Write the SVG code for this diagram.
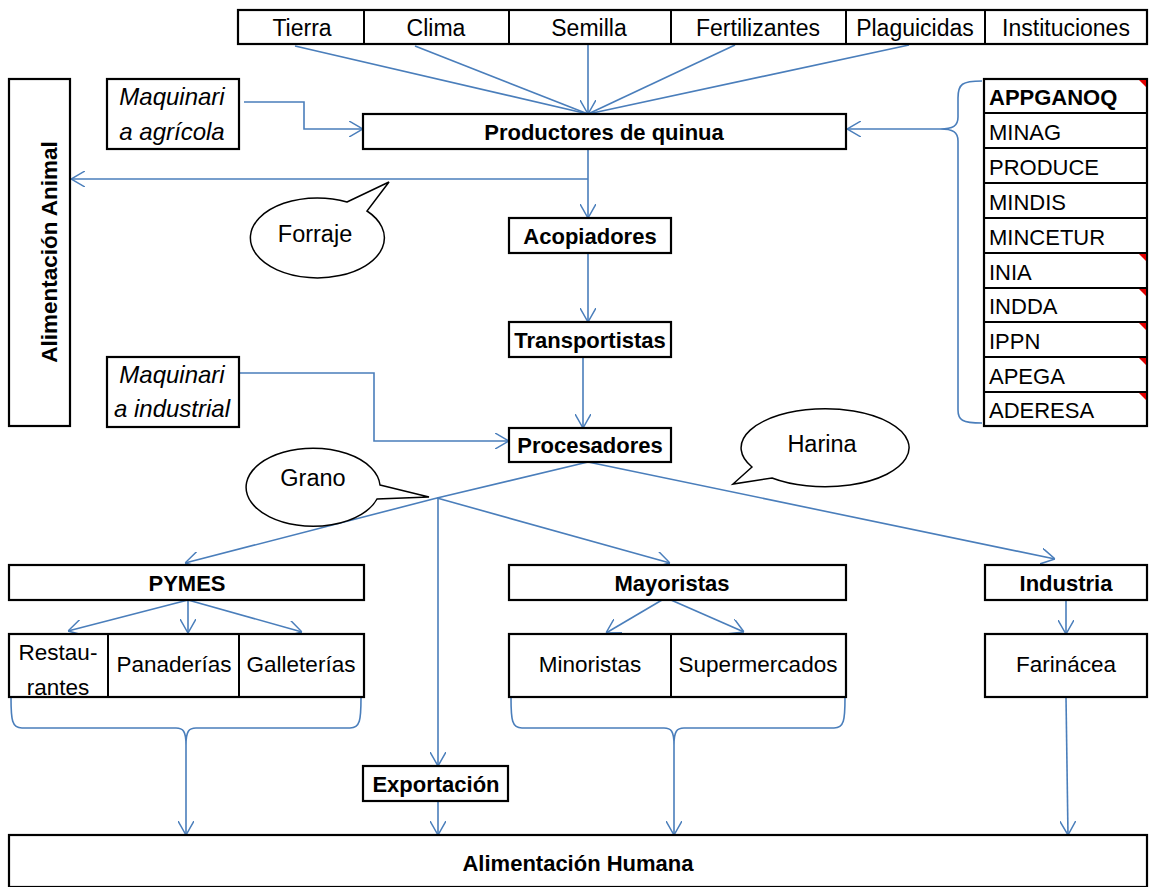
<svg xmlns="http://www.w3.org/2000/svg" width="1152" height="887" viewBox="0 0 1152 887">
<defs>
<marker id="arr" viewBox="0 0 14 16" refX="14" refY="8" markerWidth="14" markerHeight="16" markerUnits="userSpaceOnUse" orient="auto">
<path d="M0,0 L14,8 L0,16" fill="none" stroke="#4A7EBB" stroke-width="1.5"/>
</marker>
<style>
.box{fill:#fff;stroke:#000;stroke-width:2.2}
.div{stroke:#000;stroke-width:2}
.t{font-family:"Liberation Sans",Arial,sans-serif;font-size:22.5px;fill:#000}
.top{font-size:23px}
.lst{font-size:22px}
.c{text-anchor:middle}
.b{font-weight:bold;font-size:22px}
.i{font-style:italic;font-size:24px}
.bt{font-size:23.5px}
.con{fill:none;stroke:#4A7EBB;stroke-width:1.6}
.bub{fill:#fff;stroke:#000;stroke-width:1.5}
.red{fill:#E00000}
</style>
</defs>
<rect width="1152" height="887" fill="#fff"/>

<g id="connectors">
<line class="con" x1="295" y1="46" x2="588" y2="114"/>
<line class="con" x1="415" y1="46" x2="588" y2="114"/>
<line class="con" x1="588" y1="44" x2="588" y2="114" marker-end="url(#arr)"/>
<line class="con" x1="735" y1="45" x2="588" y2="114"/>
<line class="con" x1="909" y1="45" x2="588" y2="114"/>
<polyline class="con" points="244,102 304,102 304,129 363,129" marker-end="url(#arr)"/>
<line class="con" x1="940" y1="129" x2="847" y2="129" marker-end="url(#arr)"/>
<path class="con" d="M982,81 C962,81 958,84 958,98 L958,117 C958,126 953,129 940,129 C953,129 958,132 958,141 L958,410 C958,420 962,423 982,423"/>
<line class="con" x1="588" y1="149" x2="588" y2="218" marker-end="url(#arr)"/>
<line class="con" x1="588" y1="179" x2="71" y2="179" marker-end="url(#arr)"/>
<line class="con" x1="588" y1="253" x2="588" y2="322" marker-end="url(#arr)"/>
<line class="con" x1="583" y1="357" x2="583" y2="428" marker-end="url(#arr)"/>
<polyline class="con" points="239,373 374,373 374,441 509,441" marker-end="url(#arr)"/>
<polyline class="con" points="588,462 437,498 185,563" marker-end="url(#arr)"/>
<line class="con" x1="437" y1="498" x2="670" y2="563" marker-end="url(#arr)"/>
<line class="con" x1="588" y1="462" x2="1055" y2="559" marker-end="url(#arr)"/>
<line class="con" x1="438" y1="498" x2="438" y2="766" marker-end="url(#arr)"/>
<line class="con" x1="438" y1="801" x2="438" y2="835" marker-end="url(#arr)"/>
<line class="con" x1="188" y1="600" x2="68" y2="631" marker-end="url(#arr)"/>
<line class="con" x1="188" y1="600" x2="188" y2="633" marker-end="url(#arr)"/>
<line class="con" x1="188" y1="600" x2="302" y2="632" marker-end="url(#arr)"/>
<line class="con" x1="662" y1="600" x2="606" y2="633" marker-end="url(#arr)"/>
<line class="con" x1="671" y1="600" x2="744" y2="632" marker-end="url(#arr)"/>
<line class="con" x1="1066" y1="600" x2="1066" y2="634" marker-end="url(#arr)"/>
<path class="con" d="M11,698 C11,720 12,728 22,728 L176,728 C183,728 186,731 186,745 C186,731 189,728 196,728 L350,728 C360,728 361,720 361,698"/>
<line class="con" x1="186" y1="745" x2="186" y2="835" marker-end="url(#arr)"/>
<path class="con" d="M511,698 C511,720 512,728 522,728 L664,728 C671,728 674,731 674,745 C674,731 677,728 684,728 L834,728 C844,728 845,720 845,698"/>
<line class="con" x1="674" y1="745" x2="674" y2="835" marker-end="url(#arr)"/>
<line class="con" x1="1066" y1="697" x2="1068" y2="835" marker-end="url(#arr)"/>
</g>

<g id="inputs">
<rect class="box" x="238" y="10" width="909" height="34"/>
<line class="div" x1="364" y1="10" x2="364" y2="44"/>
<line class="div" x1="509" y1="10" x2="509" y2="44"/>
<line class="div" x1="671" y1="10" x2="671" y2="44"/>
<line class="div" x1="846" y1="10" x2="846" y2="44"/>
<line class="div" x1="985" y1="10" x2="985" y2="44"/>
<text class="t top c" x="302" y="36">Tierra</text>
<text class="t top c" x="436" y="36">Clima</text>
<text class="t top c" x="589" y="36">Semilla</text>
<text class="t top c" x="758" y="36">Fertilizantes</text>
<text class="t top c" x="915" y="36">Plaguicidas</text>
<text class="t top c" x="1066" y="36">Instituciones</text>
</g>

<g id="productores">
<rect class="box" x="363" y="114" width="483" height="35"/>
<text class="t c b" x="604" y="140">Productores de quinua</text>
</g>

<g id="maq-agricola">
<rect class="box" x="107" y="79" width="132" height="70"/>
<text class="t c i" x="172" y="105">Maquinari</text>
<text class="t c i" x="172" y="140">a agrícola</text>
</g>

<g id="alim-animal">
<rect class="box" x="9" y="79" width="61" height="347"/>
<text class="t c b" style="font-size:22.5px" transform="translate(57,252) rotate(-90)" x="0" y="0">Alimentación Animal</text>
</g>

<g id="forraje">
<path class="bub" d="M347,202 L389,182 L367,211 A67,40 0 1 1 347,202 Z"/>
<text class="t bt c" x="315" y="242">Forraje</text>
</g>

<g id="acopiadores">
<rect class="box" x="509" y="218" width="162" height="35"/>
<text class="t c b" x="590" y="244">Acopiadores</text>
</g>

<g id="transportistas">
<rect class="box" x="509" y="322" width="162" height="35"/>
<text class="t c b" x="590" y="348">Transportistas</text>
</g>

<g id="maq-industrial">
<rect class="box" x="107" y="357" width="132" height="70"/>
<text class="t c i" x="172" y="383">Maquinari</text>
<text class="t c i" x="172" y="417">a industrial</text>
</g>

<g id="procesadores">
<rect class="box" x="509" y="428" width="162" height="34"/>
<text class="t c b" x="590" y="453">Procesadores</text>
</g>

<g id="grano">
<path class="bub" d="M380,485 L429,497 L377,499 A67,39 0 1 1 380,485 Z"/>
<text class="t bt c" x="313" y="486">Grano</text>
</g>

<g id="harina">
<path class="bub" d="M752,467 L733,484 L772,478 A84,39 0 1 0 752,467 Z"/>
<text class="t bt c" x="822" y="452">Harina</text>
</g>

<g id="instituciones">
<rect class="box" x="984" y="79" width="163" height="347"/>
<line class="div" x1="984" y1="113" x2="1147" y2="113"/>
<line class="div" x1="984" y1="148" x2="1147" y2="148"/>
<line class="div" x1="984" y1="183" x2="1147" y2="183"/>
<line class="div" x1="984" y1="218" x2="1147" y2="218"/>
<line class="div" x1="984" y1="253" x2="1147" y2="253"/>
<line class="div" x1="984" y1="288" x2="1147" y2="288"/>
<line class="div" x1="984" y1="322" x2="1147" y2="322"/>
<line class="div" x1="984" y1="357" x2="1147" y2="357"/>
<line class="div" x1="984" y1="392" x2="1147" y2="392"/>
<polygon class="red" points="1139,80 1146,80 1146,87"/>
<polygon class="red" points="1139,254 1146,254 1146,261"/>
<polygon class="red" points="1139,289 1146,289 1146,296"/>
<polygon class="red" points="1139,323 1146,323 1146,330"/>
<polygon class="red" points="1139,358 1146,358 1146,365"/>
<polygon class="red" points="1139,393 1146,393 1146,400"/>
<text class="t lst b" x="989" y="105">APPGANOQ</text>
<text class="t lst" x="989" y="140">MINAG</text>
<text class="t lst" x="989" y="175">PRODUCE</text>
<text class="t lst" x="989" y="210">MINDIS</text>
<text class="t lst" x="989" y="245">MINCETUR</text>
<text class="t lst" x="989" y="280">INIA</text>
<text class="t lst" x="989" y="314">INDDA</text>
<text class="t lst" x="989" y="349">IPPN</text>
<text class="t lst" x="989" y="384">APEGA</text>
<text class="t lst" x="989" y="418">ADERESA</text>
</g>

<g id="pymes">
<rect class="box" x="9" y="565" width="355" height="35"/>
<text class="t c b" x="187" y="591">PYMES</text>
</g>

<g id="pymes-tipos">
<rect class="box" x="9" y="634" width="355" height="63"/>
<line class="div" x1="108" y1="634" x2="108" y2="697"/>
<line class="div" x1="239" y1="634" x2="239" y2="697"/>
<text class="t c" x="58" y="660">Restau-</text>
<text class="t c" x="58" y="695">rantes</text>
<text class="t c" x="174" y="672">Panaderías</text>
<text class="t c" x="301" y="672">Galleterías</text>
</g>

<g id="mayoristas">
<rect class="box" x="509" y="565" width="337" height="35"/>
<text class="t c b" x="672" y="591">Mayoristas</text>
</g>

<g id="mayoristas-tipos">
<rect class="box" x="509" y="634" width="337" height="63"/>
<line class="div" x1="671" y1="634" x2="671" y2="697"/>
<text class="t c" x="590" y="672">Minoristas</text>
<text class="t c" x="758" y="672">Supermercados</text>
</g>

<g id="industria">
<rect class="box" x="985" y="565" width="162" height="35"/>
<text class="t c b" x="1066" y="591">Industria</text>
</g>

<g id="farinacea">
<rect class="box" x="985" y="634" width="162" height="63"/>
<text class="t c" x="1066" y="672">Farinácea</text>
</g>

<g id="exportacion">
<rect class="box" x="363" y="766" width="145" height="35"/>
<text class="t c b" x="436" y="792">Exportación</text>
</g>

<g id="alim-humana">
<rect class="box" x="9" y="835" width="1138" height="52"/>
<text class="t c b" x="578" y="871">Alimentación Humana</text>
</g>
</svg>
